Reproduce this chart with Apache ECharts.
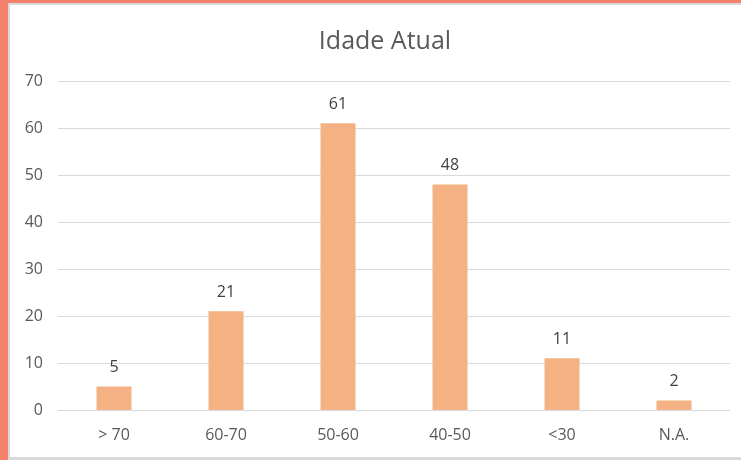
<!DOCTYPE html>
<html><head><meta charset="utf-8">
<script src="https://cdn.jsdelivr.net/npm/echarts@6/dist/echarts.min.js"></script>
<style>
html,body{margin:0;padding:0;width:741px;height:460px;overflow:hidden;background:#F4826A;}
#panel{position:absolute;left:8px;top:3px;width:733px;height:457px;background:#d9d9d9;}
#inner{position:absolute;left:10px;top:5px;width:731px;height:452px;background:#fff;}
#chart{position:absolute;left:0;top:0;width:741px;height:460px;}
</style></head>
<body>
<div id="panel"></div><div id="inner"></div>
<div id="chart"></div>
<script>
const categories = ['> 70', '60-70', '50-60', '40-50', '<30', 'N.A.'];
const values = [5, 21, 61, 48, 11, 2];
const titleText = 'Idade Atual';

const chart = echarts.init(document.getElementById('chart'), null, {renderer:'canvas'});
chart.setOption({
  backgroundColor: 'transparent',
  animation: false,
  title: {
    text: titleText, left: 380, top: 24, textAlign: 'center',
    textStyle: {fontFamily: 'Open Sans', fontSize: 25, fontWeight: 'normal', color: '#595959'}
  },
  grid: {left: 58, right: 11, top: 81, bottom: 50, containLabel: false},
  xAxis: {
    type: 'category', data: categories,
    axisLine: {lineStyle: {color: '#d9d9d9', width: 1}},
    axisTick: {show: false},
    axisLabel: {color: '#595959', fontFamily: 'Open Sans', fontSize: 16, margin: 17}
  },
  yAxis: {
    type: 'value', min: 0, max: 70, interval: 10,
    axisLine: {show: false}, axisTick: {show: false},
    splitLine: {lineStyle: {color: '#d9d9d9', width: 1}},
    axisLabel: {color: '#595959', fontFamily: 'Open Sans', fontSize: 16, margin: 15}
  },
  series: [{
    type: 'bar', data: values, barWidth: 35,
    itemStyle: {color: '#F4B183'},
    label: {show: true, position: 'top', distance: 11, color: '#404040',
      fontFamily: 'Open Sans', fontSize: 16}
  }]
});
</script>
</body></html>
